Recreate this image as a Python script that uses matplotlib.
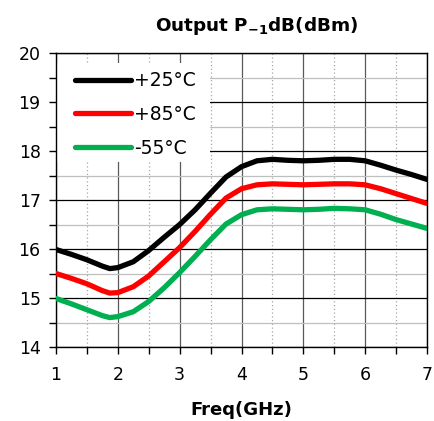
import matplotlib
matplotlib.use("Agg")
import matplotlib.pyplot as plt
from matplotlib.patches import Rectangle
from matplotlib.ticker import MultipleLocator

plt.rcParams['font.family'] = ['DejaVu Sans']

freq = [1.0, 1.25, 1.5, 1.75, 1.87, 2.0, 2.25, 2.5, 2.75, 3.0, 3.25, 3.5, 3.75, 4.0,
        4.25, 4.5, 4.75, 5.0, 5.25, 5.5, 5.75, 6.0, 6.25, 6.5, 6.75, 7.0]
p25 = [15.99, 15.89, 15.78, 15.65, 15.60, 15.62, 15.74, 15.97, 16.24, 16.50, 16.80, 17.14, 17.47, 17.68,
       17.80, 17.83, 17.81, 17.80, 17.81, 17.83, 17.83, 17.80, 17.71, 17.61, 17.52, 17.42]
p85 = [15.50, 15.40, 15.29, 15.15, 15.10, 15.11, 15.23, 15.45, 15.74, 16.03, 16.36, 16.71, 17.04, 17.23,
       17.31, 17.33, 17.32, 17.31, 17.32, 17.33, 17.33, 17.31, 17.23, 17.13, 17.03, 16.93]
m55 = [14.99, 14.88, 14.76, 14.64, 14.60, 14.62, 14.72, 14.93, 15.21, 15.52, 15.85, 16.19, 16.51, 16.70,
       16.80, 16.82, 16.81, 16.80, 16.81, 16.83, 16.82, 16.80, 16.71, 16.60, 16.51, 16.42]
series_labels = ["+25°C", "+85°C", "-55°C"]
series_colors = ["#000000", "#FF0000", "#00B050"]

fig = plt.figure(figsize=(4.34, 4.21), dpi=100)
ax = fig.add_axes([56/434, 1-347/421, (427-56)/434, (347-53)/421])

for vals, lab, col in zip([p25, p85, m55], series_labels, series_colors):
    ax.plot(freq, vals, color=col, lw=3.8, label=lab, solid_capstyle='round',
            solid_joinstyle='round', zorder=3)

ax.set_xlim(1, 7)
ax.set_ylim(14, 20)
ax.xaxis.set_major_locator(MultipleLocator(1))
ax.xaxis.set_minor_locator(MultipleLocator(0.5))
ax.yaxis.set_major_locator(MultipleLocator(1))
ax.yaxis.set_minor_locator(MultipleLocator(0.5))

ax.grid(which='major', axis='y', color='#000000', lw=0.9, zorder=1)
ax.grid(which='minor', axis='y', color='#BFBFBF', lw=0.9, zorder=1)
ax.grid(which='major', axis='x', color='#595959', lw=0.9, zorder=1)
ax.grid(which='minor', axis='x', color='#A6A6A6', lw=0.9, ls=(0, (1, 2)), zorder=1)
ax.set_axisbelow(True)

for s in ax.spines.values():
    s.set_color('#000000')
    s.set_linewidth(1.0)

ax.tick_params(which='both', direction='out', length=5, width=1, color='#000000',
               labelsize=12.5, top=False, right=False)
ax.tick_params(axis='y', pad=6)
ax.tick_params(axis='x', pad=9)

ax.set_title("Output P$_{\\mathbf{-1}}$dB(dBm)", fontsize=13.2, fontweight='bold',
             x=0.54, pad=16)
ax.set_xlabel("Freq(GHz)", fontsize=13, fontweight='bold', labelpad=12)

# white backing panel for the legend area, covering the grid
ax.add_patch(Rectangle((0.0, 0.629), 0.415, 0.337, transform=ax.transAxes,
                       facecolor='white', edgecolor='none', zorder=1.5))

leg = ax.legend(loc='upper left', bbox_to_anchor=(0.029, 0.966), fontsize=13.5,
                frameon=False, handlelength=3.0, handletextpad=0.15,
                labelspacing=0.78, borderpad=0.45, borderaxespad=0.0)
leg.set_zorder(2)

fig.savefig("out.png", dpi=100)
